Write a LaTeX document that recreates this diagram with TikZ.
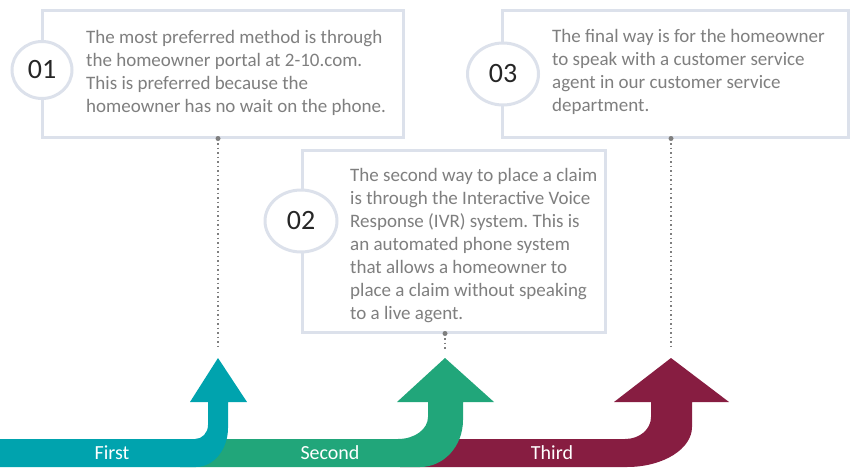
\documentclass[tikz,border=0pt]{standalone}
\usepackage{fontspec}
\setmainfont{Carlito}
\frenchspacing
\usetikzlibrary{positioning, calc, shapes.geometric}
\definecolor{firstc}{HTML}{00A3AE}
\definecolor{secondc}{HTML}{21A67A}
\definecolor{thirdc}{HTML}{871D41}
\definecolor{rim}{HTML}{DCE1EB}
\definecolor{ink}{HTML}{7F7F7F}
\tikzset{
  card/.style={draw=rim, line width=3pt, fill=white, inner sep=0pt},
  badge/.style={ellipse, draw=rim, line width=3pt, fill=white, inner sep=0pt,
    text=black!85, font=\fontsize{28}{32}\selectfont},
  blurb/.style={anchor=base west, align=left, inner sep=0pt, text=ink,
    font=\fontsize{19}{23}\selectfont},
  tag/.style={text=white, inner sep=0pt, font=\fontsize{20}{24}\selectfont},
  lead/.style={draw=ink, line width=1.5pt, dash pattern=on 1.5pt off 3pt},
  pin/.style={circle, fill=ink, inner sep=0pt, minimum size=5pt},
}

\begin{document}
\begin{tikzpicture}[x=1pt, y=-1pt]
    \useasboundingbox (0,0) rectangle (857,471);
    \coordinate (tip1) at (218,358);
    \coordinate (tip2) at (445,358);
    \coordinate (tip3) at (671,358);
    \coordinate (end1) at (218,348);
    \coordinate (end2) at (445,350);
    \coordinate (end3) at (671,347);

    % cards (blurbs sit on the baseline of their last line)
    \node[card, minimum width=361pt, minimum height=127pt] (card1) at (222.5,73.5) {};
    \node[card, minimum width=303pt, minimum height=182pt] (card2) at (453.5,241) {};
    \node[card, minimum width=346pt, minimum height=127pt] (card3) at (675,73.5) {};
    \node[badge, minimum width=60pt, minimum height=57pt] (badge1) at (42,70) {01};
    \node[badge, minimum width=72pt, minimum height=62pt] (badge2) at (301,221) {02};
    \node[badge, minimum width=71pt, minimum height=62pt] (badge3) at (503,74) {03};
    \node[blurb] (text1) at (86,112) {The most preferred method is through\\the homeowner portal at 2-10.com.\\This is preferred because the\\homeowner has no wait on the phone.};
    \node[blurb] (text2) at (350,319) {The second way to place a claim\\is through the Interactive Voice\\Response (IVR) system. This is\\an automated phone system\\that allows a homeowner to\\place a claim without speaking\\to a live agent.};
    \node[blurb] (text3) at (552,111) {The final way is for the homeowner\\to speak with a customer service\\agent in our customer service\\department.};

    % leads
    \node[pin] (pin1) at (tip1 |- card1.south) {};
    \node[pin] (pin2) at (tip2 |- card2.south) {};
    \node[pin] (pin3) at (tip3 |- card3.south) {};
    \draw[lead] (pin1.center) -- (end1);
    \draw[lead] (pin2.center) -- (end2);
    \draw[lead] (pin3.center) -- (end3);

    % arrows
    \fill[thirdc] (400,439) -- (625,439) .. controls (640,439) and (651,429) .. (651,417)
      -- (651,402) -- (614,402) -- (tip3) -- (729,402) -- (692,402) -- (692,427)
      .. controls (692,449) and (663,467) .. (627,467) -- (400,467) -- cycle;
    \fill[secondc] (180,439) -- (398,439) .. controls (415,439) and (428,429) .. (428,417)
      -- (428,402) -- (397,402) -- (tip2) -- (494,402) -- (463,402) -- (463,420)
      .. controls (463,446) and (444,467) .. (420,467) -- (180,467) -- cycle;
    \fill[firstc] (0,439) -- (195,439) .. controls (202,439) and (208,433) .. (208,425)
      -- (208,402) -- (190,402) -- (tip1) -- (247,402) -- (228,402) -- (228,428)
      .. controls (228,449) and (214,467) .. (196,467) -- (0,467) -- cycle;
    \node[tag] (first) at (112,453) {First};
    \node[tag] (second) at (330,453) {Second};
    \node[tag] (third) at (552,453) {Third};
\end{tikzpicture}
\end{document}
